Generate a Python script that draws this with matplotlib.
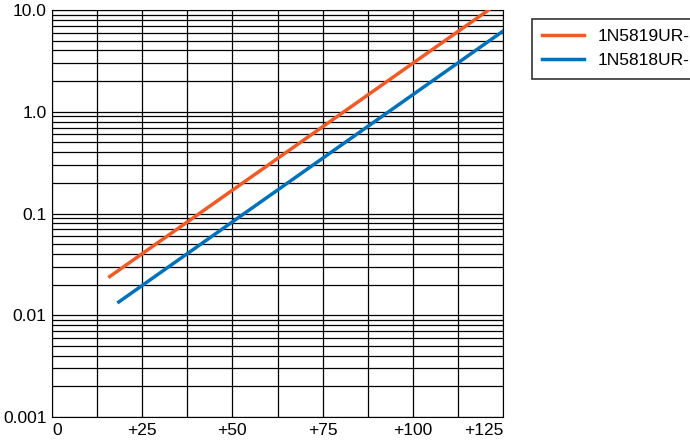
import matplotlib
matplotlib.use("Agg")
import matplotlib.pyplot as plt
from matplotlib.ticker import FixedLocator, NullFormatter

plt.rcParams['font.family'] = ['Liberation Sans', 'DejaVu Sans']

x_ticks = [0, 25, 50, 75, 100, 125]
x_labels = ["0", "+25", "+50", "+75", "+100", "+125"]
y_ticks = [0.001, 0.01, 0.1, 1.0, 10.0]
y_labels = ["0.001", "0.01", "0.1", "1.0", "10.0"]

t_5819 = [16, 121]
v_5819 = [0.024, 10.0]
t_5818 = [18.5, 125]
v_5818 = [0.0135, 6.2]

fig = plt.figure(figsize=(6.9, 4.41), dpi=100)
ax = fig.add_axes([52/690, 24/441, 451/690, 407/441])
ax.set_yscale("log")
ax.set_xlim(0, 125)
ax.set_ylim(0.001, 10)

ax.plot(t_5819, v_5819, color="#F15A24", lw=2.5, label="1N5819UR-1", zorder=3)
ax.plot(t_5818, v_5818, color="#0072BC", lw=2.5, label="1N5818UR-1", zorder=3)

ax.xaxis.set_major_locator(FixedLocator(x_ticks))
ax.set_xticklabels(x_labels)
ax.xaxis.set_minor_locator(FixedLocator([12.5 * i for i in range(11)]))
ax.yaxis.set_major_locator(FixedLocator(y_ticks))
ax.set_yticklabels(y_labels)
minors = [m * 10.0 ** e for e in range(-3, 1) for m in range(2, 10)]
ax.yaxis.set_minor_locator(FixedLocator(minors))
ax.yaxis.set_minor_formatter(NullFormatter())
ax.grid(which="both", color="black", lw=0.9)
ax.tick_params(which="both", length=0, labelsize=12.5, pad=4)
xl = ax.get_xticklabels()
xl[0].set_horizontalalignment("left")
xl[-1].set_horizontalalignment("right")
for s in ax.spines.values():
    s.set_color("black")

leg = fig.legend(loc="upper left", bbox_to_anchor=(523/690, 1 - 10/441),
                 fontsize=12.5, frameon=True, fancybox=False, edgecolor="black",
                 handlelength=2.4, borderpad=0.6, labelspacing=0.5)
leg.get_frame().set_linewidth(1.2)

fig.savefig("out.png", dpi=100)
